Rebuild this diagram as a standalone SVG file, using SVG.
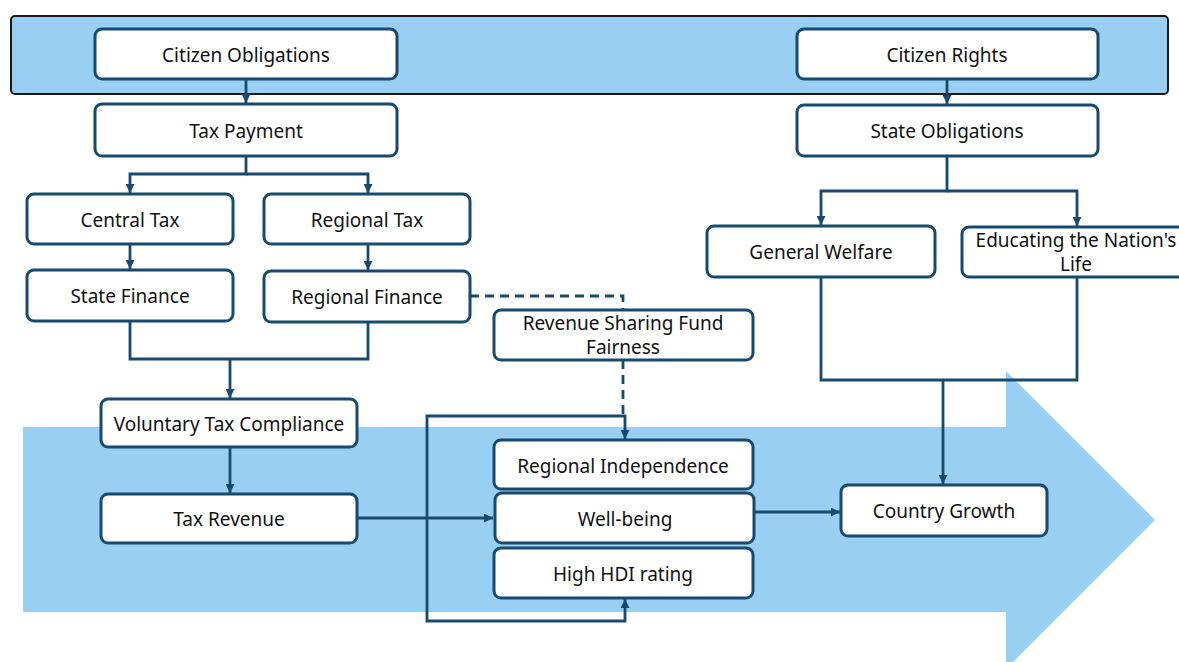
<svg xmlns="http://www.w3.org/2000/svg" width="1179" height="662" viewBox="0 0 1179 662">
  <style>
    .node rect { fill: #ffffff; stroke: #174a6e; stroke-width: 3; }
    .node text { font-family: "Noto Sans", "DejaVu Sans", sans-serif; font-size: 19px; fill: #111111; text-anchor: middle; dominant-baseline: central; }
    .link { fill: none; stroke: #174a6e; stroke-width: 2.8; }
    .dash { stroke-dasharray: 9 6; }
    .band { fill: #99cff3; }
  </style>
  <defs>
    <marker id="head" viewBox="0 0 10 10" refX="10" refY="5" markerWidth="9" markerHeight="9" markerUnits="userSpaceOnUse" orient="auto">
      <path d="M0,0 L10,5 L0,10 z" fill="#174a6e"/>
    </marker>
  </defs>

  <!-- background flow arrow -->
  <path class="band" d="M23,427 H1006 V371 L1155,520 L1006,669 V612 H23 Z"/>

  <!-- top banner -->
  <rect x="11" y="16" width="1157" height="78" rx="4" fill="#99cff3" stroke="#1a1a1a" stroke-width="2"/>

  <g id="connectors">
    <path class="link" d="M246,80 V103" marker-end="url(#head)"/>
    <path class="link" d="M947,80 V104" marker-end="url(#head)"/>
    <path class="link" d="M246,156 V174 H130 V193" marker-end="url(#head)"/>
    <path class="link" d="M246,174 H368 V193" marker-end="url(#head)"/>
    <path class="link" d="M130,244 V269" marker-end="url(#head)"/>
    <path class="link" d="M368,244 V270" marker-end="url(#head)"/>
    <path class="link" d="M130,321 V359 H368 V322"/>
    <path class="link" d="M230,359 V398" marker-end="url(#head)"/>
    <path class="link" d="M230,447 V493" marker-end="url(#head)"/>
    <path class="link" d="M357,518 H493" marker-end="url(#head)"/>
    <path class="link" d="M427,518 V416 H625 V439" marker-end="url(#head)"/>
    <path class="link" d="M427,518 V621 H625 V599" marker-end="url(#head)"/>
    <path class="link dash" d="M470,296 H623 V310"/>
    <path class="link dash" d="M623,360 V416"/>
    <path class="link" d="M947,156 V191 H821 V225" marker-end="url(#head)"/>
    <path class="link" d="M947,191 H1077 V226" marker-end="url(#head)"/>
    <path class="link" d="M821,277 V380 H1077 V277"/>
    <path class="link" d="M943,380 V484" marker-end="url(#head)"/>
    <path class="link" d="M754,512 H840" marker-end="url(#head)"/>
  </g>

  <g id="citizen-obligations" class="node">
    <rect x="95" y="29" width="302" height="50" rx="7"/>
    <text x="246" y="55">Citizen Obligations</text>
  </g>
  <g id="citizen-rights" class="node">
    <rect x="797" y="29" width="301" height="50" rx="7"/>
    <text x="947" y="55">Citizen Rights</text>
  </g>
  <g id="tax-payment" class="node">
    <rect x="95" y="104" width="302" height="52" rx="7"/>
    <text x="246" y="131">Tax Payment</text>
  </g>
  <g id="state-obligations" class="node">
    <rect x="797" y="105" width="301" height="51" rx="7"/>
    <text x="947" y="131">State Obligations</text>
  </g>
  <g id="central-tax" class="node">
    <rect x="27" y="194" width="206" height="50" rx="7"/>
    <text x="130" y="220">Central Tax</text>
  </g>
  <g id="regional-tax" class="node">
    <rect x="264" y="194" width="206" height="50" rx="7"/>
    <text x="367" y="220">Regional Tax</text>
  </g>
  <g id="state-finance" class="node">
    <rect x="27" y="270" width="206" height="51" rx="7"/>
    <text x="130" y="296">State Finance</text>
  </g>
  <g id="regional-finance" class="node">
    <rect x="264" y="271" width="206" height="51" rx="7"/>
    <text x="367" y="297">Regional Finance</text>
  </g>
  <g id="general-welfare" class="node">
    <rect x="707" y="226" width="228" height="51" rx="7"/>
    <text x="821" y="252">General Welfare</text>
  </g>
  <g id="educating-life" class="node">
    <rect x="962" y="227" width="240" height="50" rx="7"/>
    <text x="1076" y="240">Educating the Nation's</text>
    <text x="1076" y="264">Life</text>
  </g>
  <g id="revenue-sharing" class="node">
    <rect x="494" y="310" width="259" height="50" rx="7"/>
    <text x="623" y="323">Revenue Sharing Fund</text>
    <text x="623" y="347">Fairness</text>
  </g>
  <g id="voluntary-compliance" class="node">
    <rect x="101" y="399" width="256" height="48" rx="7"/>
    <text x="229" y="424">Voluntary Tax Compliance</text>
  </g>
  <g id="tax-revenue" class="node">
    <rect x="101" y="494" width="256" height="49" rx="7"/>
    <text x="229" y="519">Tax Revenue</text>
  </g>
  <g id="regional-independence" class="node">
    <rect x="494" y="440" width="259" height="49" rx="7"/>
    <text x="623" y="466">Regional Independence</text>
  </g>
  <g id="well-being" class="node">
    <rect x="495" y="493" width="259" height="50" rx="7"/>
    <text x="625" y="519">Well-being</text>
  </g>
  <g id="high-hdi" class="node">
    <rect x="494" y="548" width="259" height="50" rx="7"/>
    <text x="623" y="574">High HDI rating</text>
  </g>
  <g id="country-growth" class="node">
    <rect x="841" y="485" width="206" height="51" rx="7"/>
    <text x="944" y="511">Country Growth</text>
  </g>
</svg>
